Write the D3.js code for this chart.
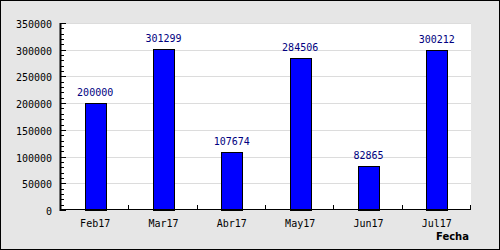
<!DOCTYPE html>
<html>
<head>
<meta charset="utf-8">
<script src="https://cdn.jsdelivr.net/npm/d3@7"></script>
<style>
  body { margin: 0; }
  svg { display: block; }
</style>
</head>
<body>
<script>
// Data
var months = ["Feb17", "Mar17", "Abr17", "May17", "Jun17", "Jul17"];
var values = [200000, 301299, 107674, 284506, 82865, 300212];
var yTicks = [0, 50000, 100000, 150000, 200000, 250000, 300000, 350000];
var xTitle = "Fecha";

var width = 500, height = 250;
var margin = { top: 23, right: 29, bottom: 40, left: 61 };
var plotW = width - margin.left - margin.right;
var plotH = height - margin.top - margin.bottom;

var svg = d3.select("body").append("svg")
    .attr("width", width)
    .attr("height", height);

// Outer background and frame
svg.append("rect")
    .attr("x", 0.5).attr("y", 0.5)
    .attr("width", width - 1).attr("height", height - 1)
    .style("fill", "#e6e6e6")
    .style("stroke", "#000");

var g = svg.append("g")
    .attr("transform", "translate(" + margin.left + "," + margin.top + ")");

g.append("rect")
    .attr("width", plotW).attr("height", plotH)
    .style("fill", "#fff");

var x = d3.scaleBand().domain(months).range([0, plotW]);
var y = d3.scaleLinear().domain([0, 350000]).range([plotH, 0]);

// Grid lines
g.selectAll(".grid")
    .data(yTicks.slice(1))
    .enter().append("line")
    .attr("class", "grid")
    .attr("x1", 0).attr("x2", plotW)
    .attr("y1", function (d) { return Math.round(y(d)) + 0.5; })
    .attr("y2", function (d) { return Math.round(y(d)) + 0.5; })
    .style("stroke", "#dcdcdc");

// Bars
var bw = x.bandwidth() * 0.31;
g.selectAll(".bar")
    .data(values)
    .enter().append("rect")
    .attr("class", "bar")
    .attr("x", function (d, i) { return Math.round(x(months[i]) + x.bandwidth() / 2 - bw / 2) + 0.5; })
    .attr("y", function (d) { return Math.round(y(d)) + 0.5; })
    .attr("width", Math.round(bw))
    .attr("height", function (d) { return Math.round(plotH - y(d)); })
    .style("fill", "#0000ff")
    .style("stroke", "#000");

// Value labels
g.selectAll(".val")
    .data(values)
    .enter().append("text")
    .attr("class", "val")
    .attr("x", function (d, i) { return x(months[i]) + x.bandwidth() / 2; })
    .attr("y", function (d) { return y(d) - 7; })
    .attr("text-anchor", "middle")
    .style("font-family", "DejaVu Sans Mono")
    .style("font-size", "10px")
    .style("fill", "#000080")
    .text(function (d) { return d; });

// Y axis
var yAxis = g.append("g")
    .call(d3.axisLeft(y).tickValues(yTicks).tickSize(0).tickPadding(9).tickFormat(d3.format("d")));
yAxis.select(".domain").remove();
yAxis.selectAll("text")
    .attr("dy", "0.45em")
    .style("font-family", "DejaVu Sans Mono")
    .style("font-size", "10px")
    .style("fill", "#000");

g.selectAll(".ytick")
    .data(d3.range(0, 350001, 10000))
    .enter().append("line")
    .attr("class", "ytick")
    .attr("x1", 0)
    .attr("x2", function (d) { return d % 50000 === 0 ? 5 : 3; })
    .attr("y1", function (d) { return Math.round(y(d)) + 0.5; })
    .attr("y2", function (d) { return Math.round(y(d)) + 0.5; })
    .style("stroke", "#000");

g.append("line")
    .attr("x1", -0.5).attr("x2", -0.5)
    .attr("y1", 0).attr("y2", plotH + 1)
    .style("stroke", "#000")
    .style("stroke-width", 2);

// X axis
g.append("line")
    .attr("x1", 0).attr("x2", plotW)
    .attr("y1", plotH - 0.5).attr("y2", plotH - 0.5)
    .style("stroke", "#000");

g.selectAll(".xtick")
    .data(months.slice(1).concat(["end"]))
    .enter().append("line")
    .attr("class", "xtick")
    .attr("x1", function (d, i) { return Math.round(x.step() * (i + 1)) - 0.5; })
    .attr("x2", function (d, i) { return Math.round(x.step() * (i + 1)) - 0.5; })
    .attr("y1", plotH).attr("y2", plotH - 5)
    .style("stroke", "#000");

g.selectAll(".xlab")
    .data(months)
    .enter().append("text")
    .attr("class", "xlab")
    .attr("x", function (d) { return x(d) + x.bandwidth() / 2; })
    .attr("y", plotH + 17)
    .attr("text-anchor", "middle")
    .style("font-family", "DejaVu Sans Mono")
    .style("font-size", "10px")
    .style("fill", "#000")
    .text(function (d) { return d; });

svg.append("text")
    .attr("x", 469)
    .attr("y", 240)
    .attr("text-anchor", "end")
    .style("font-family", "DejaVu Sans")
    .style("font-weight", "bold")
    .style("font-size", "10px")
    .style("fill", "#000")
    .text(xTitle);
</script>
</body>
</html>
